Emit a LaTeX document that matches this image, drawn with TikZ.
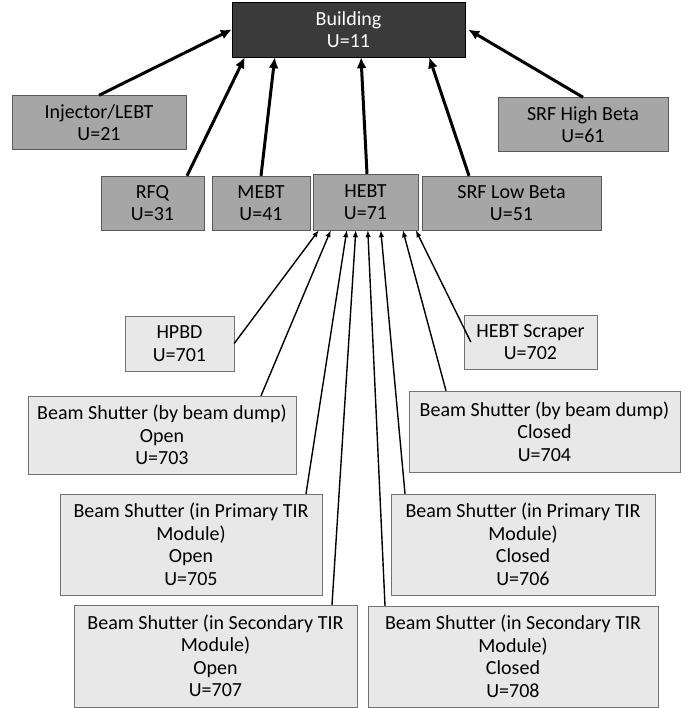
\documentclass[tikz,border=0pt]{standalone}
\usepackage{fontspec}
\setmainfont[Ligatures=NoCommon]{Carlito}
\usepackage{tikz}
\usetikzlibrary{positioning, arrows.meta}
\definecolor{darkbox}{HTML}{3A3A3A}
\definecolor{midbox}{HTML}{A6A6A6}
\definecolor{lightbox}{HTML}{E8E8E8}
\tikzstyle{block} = [rectangle, draw, inner sep=2pt, align=center,
                 font=\fontsize{20}{22.5}\selectfont]
\tikzstyle{top} = [block, fill=darkbox, draw=black, text=white]
\tikzstyle{system} = [block, fill=midbox, draw=black!65, minimum height=54pt]
\tikzstyle{device} = [block, fill=lightbox, draw=black!55]
\tikzstyle{branch} = [line width=3pt, draw, -{Latex[length=11pt,width=10pt]}]
\tikzstyle{twig} = [line width=1.4pt, draw, -{Latex[length=7pt,width=5.5pt]}]

\begin{document}
\begin{tikzpicture}[x=1pt, y=-1pt]
\useasboundingbox (0,0) rectangle (686,708);

% top level
\node [top, minimum width=233pt, minimum height=55pt] at (348.5,29.5) (bld) {Building\\U=11};

% systems
\node [system, minimum width=174pt] at (99,122.5)   (inj)  {Injector/LEBT\\U=21};
\node [system, minimum width=170pt] at (583,124.5)  (srfh) {SRF High Beta\\U=61};
\node [system, minimum width=103pt] at (152.5,203)  (rfq)  {RFQ\\U=31};
\node [system, minimum width=98pt]  at (261,203)    (mebt) {MEBT\\U=41};
\node [system, minimum width=105pt, minimum height=56pt] at (365.5,202) (hebt) {HEBT\\U=71};
\node [system, minimum width=179pt] at (511.5,203)  (srfl) {SRF Low Beta\\U=51};

\path[branch] (inj.north) -- (bld.west);
\path[branch] ([xshift=34.5pt]rfq.north) -- ([xshift=13pt]bld.south west);
\path[branch] (mebt.north) -- ([xshift=43pt]bld.south west);
\path[branch] ([xshift=1.5pt]hebt.north) -- ([xshift=12.5pt]bld.south);
\path[branch] ([xshift=-42.5pt]srfl.north) -- ([xshift=-36pt]bld.south east);
\path[branch] (srfh.north) -- ([xshift=3pt]bld.east);

% HEBT devices
\node [device, minimum width=109pt, minimum height=55pt] at (179.5,343.5) (hpbd) {HPBD\\U=701};
\node [device, minimum width=133pt, minimum height=54pt] at (530.5,342)   (scr)  {HEBT Scraper\\U=702};
\node [device, minimum width=268pt, minimum height=78pt] at (162,435)     (bdo)  {Beam Shutter (by beam dump)\\Open\\U=703};
\node [device, minimum width=271pt, minimum height=81pt] at (544.5,431.5) (bdc)  {Beam Shutter (by beam dump)\\Closed\\U=704};
\node [device, minimum width=262pt, minimum height=101pt] at (191,544.5)  (tpo)  {Beam Shutter (in Primary TIR\\Module)\\Open\\U=705};
\node [device, minimum width=264pt, minimum height=101pt] at (523,544.5)  (tpc)  {Beam Shutter (in Primary TIR\\Module)\\Closed\\U=706};
\node [device, minimum width=283pt, minimum height=102pt] at (215.5,656)  (tso)  {Beam Shutter (in Secondary TIR\\Module)\\Open\\U=707};
\node [device, minimum width=290pt, minimum height=101pt] at (513,656.5)  (tsc)  {Beam Shutter (in Secondary TIR\\Module)\\Closed\\U=708};

\path[twig] (hpbd.east) -- ([xshift=6pt]hebt.south west);
\path[twig] ([xshift=99pt]bdo.north) -- ([xshift=18pt]hebt.south west);
\path[twig] ([xshift=115pt]tpo.north) -- ([xshift=34pt]hebt.south west);
\path[twig] ([xshift=116.5pt]tso.north) -- ([xshift=43pt]hebt.south west);
\path[twig] ([xshift=-128pt]tsc.north) -- ([xshift=55pt]hebt.south west);
\path[twig] ([xshift=-118pt]tpc.north) -- ([xshift=68pt]hebt.south west);
\path[twig] ([xshift=-98.5pt]bdc.north) -- ([xshift=90pt]hebt.south west);
\path[twig] ([xshift=7pt]scr.west) -- ([xshift=103pt]hebt.south west);

\end{tikzpicture}
\end{document}
